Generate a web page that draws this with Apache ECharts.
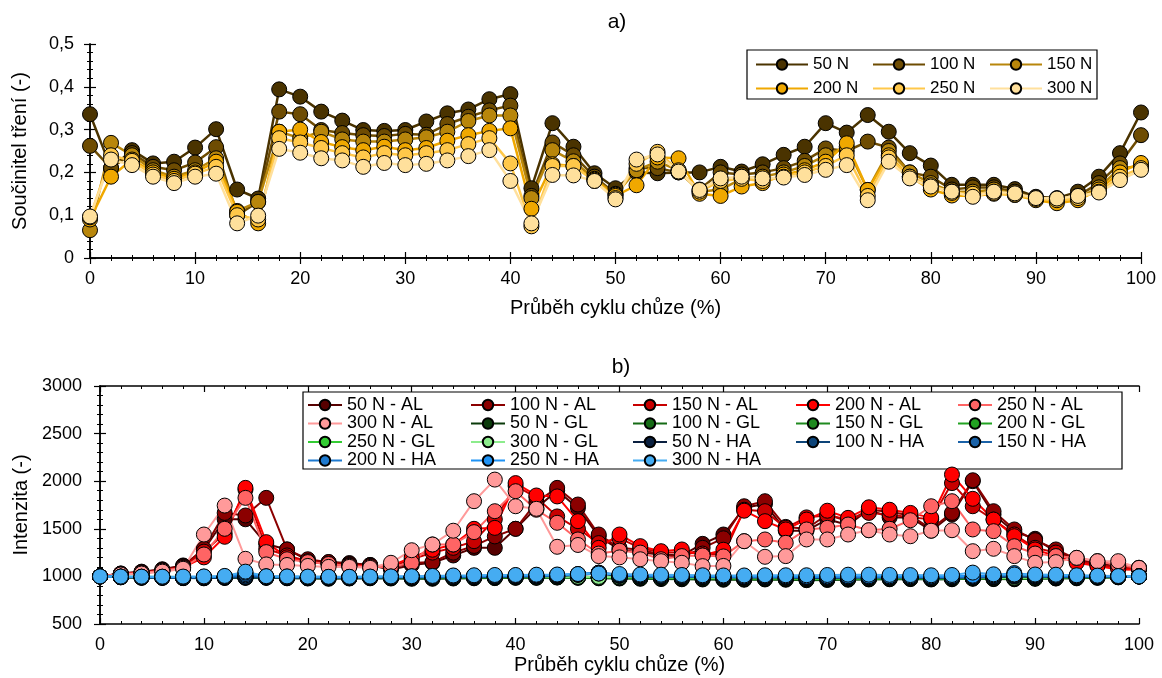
<!DOCTYPE html>
<html><head><meta charset="utf-8">
<script src="https://cdn.jsdelivr.net/npm/echarts@6/dist/echarts.min.js"></script>
<style>html,body{margin:0;padding:0;background:#fff}#c{width:1162px;height:678px}</style>
</head><body><div id="c"></div>
<script>
const xs = [0,2,4,6,8,10,12,14,16,18,20,22,24,26,28,30,32,34,36,38,40,42,44,46,48,50,52,54,56,58,60,62,64,66,68,70,72,74,76,78,80,82,84,86,88,90,92,94,96,98,100];

const muNames = ['50 N','100 N','150 N','200 N','250 N','300 N'];
const mu50 = [0.336,0.210,0.252,0.221,0.225,0.258,0.301,0.160,0.139,0.394, 0.377,0.342,0.321,0.299,0.297,0.299,0.319,0.338,0.347,0.371, 0.383,0.163,0.315,0.260,0.198,0.163,0.200,0.198,0.200,0.200, 0.213,0.202,0.219,0.241,0.260,0.315,0.293,0.334,0.295,0.245, 0.216,0.171,0.171,0.171,0.161,0.143,0.140,0.155,0.190,0.245, 0.340];
const mu100 = [0.262,0.210,0.245,0.213,0.205,0.223,0.259,0.100,0.131,0.342, 0.336,0.299,0.292,0.287,0.285,0.290,0.288,0.313,0.330,0.345, 0.356,0.145,0.270,0.240,0.190,0.150,0.210,0.210,0.200,0.160, 0.200,0.195,0.200,0.210,0.227,0.256,0.250,0.272,0.258,0.200, 0.190,0.160,0.165,0.165,0.155,0.140,0.138,0.145,0.175,0.221, 0.287];
const mu150 = [0.065,0.269,0.240,0.205,0.190,0.205,0.233,0.110,0.131,0.295, 0.280,0.295,0.277,0.272,0.272,0.277,0.282,0.295,0.320,0.333, 0.333,0.140,0.252,0.226,0.185,0.148,0.205,0.225,0.205,0.155, 0.160,0.185,0.190,0.200,0.215,0.240,0.260,0.159,0.250,0.200, 0.175,0.155,0.155,0.160,0.150,0.138,0.135,0.140,0.165,0.210, 0.215];
const mu200 = [0.090,0.190,0.230,0.200,0.185,0.200,0.225,0.108,0.081,0.295, 0.300,0.271,0.259,0.252,0.260,0.252,0.257,0.274,0.287,0.297, 0.303,0.115,0.219,0.215,0.183,0.145,0.170,0.235,0.233,0.150, 0.145,0.167,0.175,0.195,0.205,0.225,0.268,0.159,0.240,0.190, 0.160,0.146,0.145,0.150,0.147,0.135,0.128,0.135,0.160,0.200, 0.222];
const mu250 = [0.095,0.240,0.227,0.195,0.180,0.197,0.213,0.100,0.090,0.280, 0.270,0.257,0.245,0.235,0.245,0.240,0.245,0.252,0.266,0.280, 0.221,0.074,0.215,0.215,0.180,0.140,0.220,0.248,0.205,0.155, 0.180,0.185,0.180,0.190,0.200,0.215,0.240,0.145,0.235,0.190, 0.170,0.152,0.150,0.152,0.148,0.138,0.135,0.140,0.155,0.190, 0.210];
const mu300 = [0.097,0.230,0.217,0.190,0.175,0.190,0.197,0.081,0.099,0.255, 0.246,0.233,0.228,0.213,0.222,0.217,0.220,0.228,0.238,0.252, 0.180,0.081,0.194,0.193,0.180,0.137,0.230,0.242,0.202,0.159, 0.186,0.190,0.186,0.188,0.194,0.206,0.217,0.135,0.225,0.186, 0.167,0.155,0.143,0.155,0.151,0.140,0.139,0.145,0.153,0.182, 0.206];
const muColors = ['#4a3300','#6e4c02','#b8860b','#f0a800','#ffc84a','#ffe09c'];

const al50 = [1000,1030,1050,1075,1115,1280,1600,1600,1340,1283, 1170,1150,1140,1120,1070,1120,1143,1220,1300,1300, 1500,1720,1900,1720,1420,1280,1250,1230,1220,1342, 1440,1720,1760,1480,1480,1600,1540,1700,1620,1620, 1480,1650,2000,1650,1470,1395,1260,1180,1140,1100, 1090];
const al100 = [1000,1030,1045,1070,1110,1290,1667,1640,1825,1283, 1180,1150,1130,1120,1090,1140,1150,1250,1320,1420, 1500,1780,1930,1755,1440,1300,1280,1230,1200,1300, 1400,1737,1790,1520,1500,1650,1580,1700,1680,1640, 1500,1667,2010,1685,1493,1380,1283,1180,1130,1100, 1080];
const al150 = [1000,1025,1040,1060,1100,1260,1450,1910,1290,1220, 1160,1130,1120,1110,1100,1180,1250,1300,1370,1600, 1950,1830,1630,1500,1350,1400,1300,1250,1250,1240, 1230,1700,1685,1510,1620,1640,1600,1667,1650,1620, 1600,1980,1737,1597,1440,1300,1250,1160,1120,1090, 1080];
const al200 = [1000,1020,1035,1055,1095,1200,1416,1930,1360,1200, 1150,1130,1110,1110,1110,1200,1280,1335,1500,1510, 1980,1850,1840,1580,1300,1440,1318,1265,1283,1220, 1280,1690,1580,1493,1597,1690,1615,1726,1700,1667, 1615,2070,1815,1597,1422,1283,1213,1143,1108,1073, 1070];
const al250 = [1000,1025,1035,1060,1090,1230,1500,1825,1255,1180, 1150,1130,1110,1100,1100,1143,1335,1335,1465,1685, 1895,1700,1563,1388,1240,1270,1250,1180,1213,1220, 1210,1370,1388,1353,1493,1510,1545,1485,1500,1590, 1737,1790,1493,1475,1317,1240,1213,1195,1160,1120, 1090];
const al300 = [1000,1020,1030,1050,1080,1440,1744,1185,1126,1120, 1110,1100,1100,1090,1143,1275,1335,1480,1790,2017, 1737,1710,1311,1330,1213,1200,1180,1160,1143,1108, 1110,1370,1206,1213,1388,1388,1440,1485,1440,1422, 1480,1485,1265,1290,1213,1143,1150,1195,1160,1160, 1090];

const gl50 = [1000,990,985,985,982,980,985,985,985,980, 978,975,978,980,978,975,975,978,980,982, 985,985,988,985,980,978,975,972,970,968, 965,965,968,965,960,962,965,968,970,972, 968,970,975,972,970,975,978,980,985,990, 1000];
const gl100 = [1000,992,988,988,985,985,988,988,988,985, 982,980,982,985,982,980,980,982,985,985, 988,988,990,988,985,982,980,978,975,975, 972,970,972,970,965,968,970,972,975,975, 972,975,978,975,975,978,980,985,988,992, 1000];
const gl150 = [1000,995,990,990,988,988,990,990,990,988, 985,985,985,988,985,985,985,985,988,990, 990,990,992,990,988,985,985,982,980,980, 978,975,978,975,970,972,975,975,978,978, 975,978,980,978,978,980,985,988,990,995, 1000];
const gl200 = [1000,996,993,992,990,990,992,992,992,990, 988,988,988,990,988,988,988,988,990,992, 992,992,995,992,990,988,988,985,985,982, 980,978,980,978,975,975,978,978,980,980, 978,980,982,980,980,982,988,990,992,995, 1000];
const gl250 = [1000,997,995,994,992,992,994,994,994,992, 990,990,990,992,990,990,990,990,992,994, 994,995,997,994,992,990,990,988,988,985, 983,980,983,980,978,978,980,980,983,983, 980,982,985,983,983,985,990,992,994,997, 1000];
const gl300 = [1000,998,996,996,995,995,996,996,996,995, 993,993,993,995,993,993,993,993,995,996, 996,997,999,996,995,993,993,990,990,988, 986,983,986,983,980,980,983,983,986,986, 983,985,988,986,986,988,992,994,996,998, 1000];

const ha50 = [1000,992,988,985,982,982,985,988,988,985, 982,982,982,985,988,988,990,992,992,995, 998,1000,1005,1015,1030,1005,1000,996,994,994, 990,988,990,988,984,984,986,988,988,988, 984,986,988,990,998,994,990,992,995,996, 1000];
const ha100 = [1000,994,990,988,986,986,990,995,990,988, 985,985,985,988,990,990,992,994,995,998, 1000,1002,1008,1020,1035,1008,1002,998,996,996, 992,990,992,990,988,988,990,990,990,990, 988,990,992,994,1005,998,994,995,998,998, 1000];
const ha150 = [1000,995,992,990,990,990,993,1010,995,992, 990,988,988,990,993,993,995,997,998,1000, 1003,1005,1010,1022,1038,1012,1005,1000,998,998, 995,993,995,993,990,990,992,992,993,993, 990,992,995,998,1015,1002,998,998,1000,1000, 1000];
const ha200 = [1000,996,994,992,992,993,996,1025,998,995, 993,990,990,993,995,996,998,1000,1002,1004, 1006,1008,1012,1022,1040,1015,1008,1004,1002,1000, 998,996,998,996,993,994,996,996,997,997, 995,996,1000,1005,1025,1008,1004,1002,1002,1002, 1000];
const ha250 = [1000,997,996,995,995,996,1000,1040,1000,998, 996,994,994,996,998,1000,1002,1005,1006,1008, 1010,1012,1015,1022,1038,1018,1012,1008,1006,1004, 1002,1000,1004,1002,998,1000,1002,1002,1002,1002, 1000,1002,1008,1012,1035,1012,1010,1008,1005,1004, 1000];
const ha300 = [1000,998,997,997,998,1000,1005,1050,1002,1000, 998,996,996,998,1000,1002,1005,1010,1012,1015, 1015,1018,1020,1025,1030,1025,1020,1018,1015,1012, 1010,1010,1012,1012,1012,1015,1018,1018,1016,1014, 1012,1015,1040,1022,1020,1020,1018,1012,1008,1004, 1000];

const intNames = ['50 N - AL','100 N - AL','150 N - AL','200 N - AL','250 N - AL','300 N - AL',
  '50 N - GL','100 N - GL','150 N - GL','200 N - GL','250 N - GL','300 N - GL',
  '50 N - HA','100 N - HA','150 N - HA','200 N - HA','250 N - HA','300 N - HA'];
const intColors = ['#560000','#8b0000','#c80000','#ff0000','#ff6464','#ff9a9a',
  '#0a3a0a','#156b15','#1f8a1f','#22a322','#33cc33','#8cec8c',
  '#0a2040','#0d4478','#1a62a8','#1e7ad0','#1f93f5','#45acf2'];
const intData = [al50,al100,al150,al200,al250,al300,gl50,gl100,gl150,gl200,gl250,gl300,ha50,ha100,ha150,ha200,ha250,ha300];
const muData = [mu50,mu100,mu150,mu200,mu250,mu300];

const FONT = 'Liberation Sans';
const pairs = arr => xs.map((x,i)=>[x,arr[i]]);

const series = [];
muData.forEach((arr,i)=>{
  series.push({name:muNames[i], type:'line', xAxisIndex:0, yAxisIndex:0, data:pairs(arr),
    symbol:'circle', symbolSize:15, color:muColors[i],
    lineStyle:{width:2.5,color:muColors[i]},
    itemStyle:{color:muColors[i],borderColor:'#000',borderWidth:1}});
});
intData.forEach((arr,i)=>{
  series.push({name:intNames[i], type:'line', xAxisIndex:2, yAxisIndex:2, data:pairs(arr),
    symbol:'circle', symbolSize:15, color:intColors[i],
    lineStyle:{width:2,color:intColors[i]},
    itemStyle:{color:intColors[i],borderColor:'#000',borderWidth:1}});
});

const axLine = {show:true, lineStyle:{color:'#000', width:1.5}};
const tickS = {show:true, inside:true, length:6, lineStyle:{color:'#000', width:1.2}};
const minorS = {show:true, splitNumber:5, length:3, lineStyle:{color:'#000', width:1}};
const lblS = {color:'#000', fontFamily:FONT, fontSize:18};
const nameS = {color:'#000', fontFamily:FONT, fontSize:20};

function xAx(grid, pos, showLbl, name, gap){
  return {type:'value', gridIndex:grid, position:pos, min:0, max:100, interval:10,
    axisLine:axLine, axisTick:tickS, minorTick:minorS, splitLine:{show:false}, minorSplitLine:{show:false},
    axisLabel:Object.assign({show:showLbl, margin:12}, lblS),
    name: name||'', nameLocation:'middle', nameGap:gap||0, nameTextStyle:nameS};
}
function yAx(grid, pos, showLbl, min, max, itv, fmt, margin, name, gap){
  return {type:'value', gridIndex:grid, position:pos, min:min, max:max, interval:itv,
    axisLine:axLine, axisTick:tickS, minorTick:minorS, splitLine:{show:false}, minorSplitLine:{show:false},
    axisLabel:Object.assign({show:showLbl, margin:margin, formatter:fmt}, lblS),
    name: name||'', nameLocation:'middle', nameGap:gap||0, nameTextStyle:nameS};
}
const muFmt = v => v===0 ? '0' : v.toFixed(1).replace('.',',');
const intFmt = v => String(v);

const legendTop = {color:'#000', fontFamily:FONT, fontSize:17};
const legendBot = {color:'#000', fontFamily:FONT, fontSize:18};
const legends = [];
const topCols = [['50 N','200 N'],['100 N','250 N'],['150 N','300 N']];
const topX = [755,872,989];
topCols.forEach((d,i)=>legends.push({data:d, orient:'vertical', left:topX[i], top:56, padding:0,
  itemWidth:52, itemHeight:13, itemGap:7, textStyle:legendTop}));
const botCols = [['50 N - AL','300 N - AL','250 N - GL','200 N - HA'],
  ['100 N - AL','50 N - GL','300 N - GL','250 N - HA'],
  ['150 N - AL','100 N - GL','50 N - HA','300 N - HA'],
  ['200 N - AL','150 N - GL','100 N - HA'],
  ['250 N - AL','200 N - GL','150 N - HA']];
const botX = [307,470,632,795,957];
botCols.forEach((d,i)=>legends.push({data:d, orient:'vertical', left:botX[i], top:396, padding:0,
  itemWidth:34, itemHeight:13, itemGap:0.5, textStyle:legendBot}));

const chart = echarts.init(document.getElementById('c'), null, {renderer:'canvas'});
chart.setOption({
  animation:false,
  backgroundColor:'#fff',
  grid:[{left:90, top:44, width:1051, height:214},{left:100, top:386, width:1039, height:238}],
  xAxis:[xAx(0,'bottom',true,'Průběh cyklu chůze (%)',40), xAx(0,'top',false),
         xAx(1,'bottom',true,'Průběh cyklu chůze (%)',31), xAx(1,'top',false)],
  yAxis:[yAx(0,'left',true,0,0.5,0.1,muFmt,16,'Součinitel tření (-)',60), yAx(0,'right',false,0,0.5,0.1,muFmt,16),
         yAx(1,'left',true,500,3000,500,intFmt,18,'Intenzita (-)',68), yAx(1,'right',false,500,3000,500,intFmt,18)],
  legend:legends,
  graphic:[
    {type:'text', x:617, y:22, style:{text:'a)', fill:'#000', font:'21px "Liberation Sans"', textAlign:'center', textVerticalAlign:'middle'}},
    {type:'text', x:621, y:367, style:{text:'b)', fill:'#000', font:'21px "Liberation Sans"', textAlign:'center', textVerticalAlign:'middle'}},
    {type:'rect', shape:{x:747, y:50, width:350, height:49}, style:{fill:null, stroke:'#000', lineWidth:1.2}, z:100},
    {type:'rect', shape:{x:303, y:392, width:819, height:77}, style:{fill:'#fff', stroke:'#000', lineWidth:1.2}, z:-1}
  ],
  series:series
});
</script></body></html>
